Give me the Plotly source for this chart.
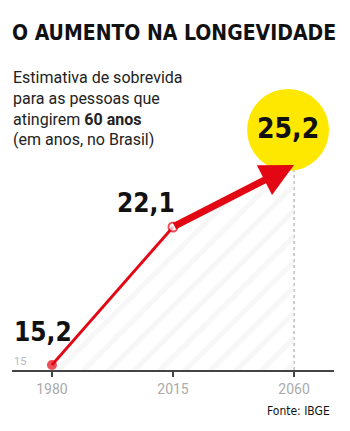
import plotly.graph_objects as go

years = ["1980", "2015", "2060"]
values = [15.2, 22.1, 25.2]
labels = ["15,2", "22,1", "25,2"]
axis_label = "15"

RED = "#e30613"
YELLOW = "#ffe800"
COND = "DejaVu Sans Condensed, DejaVu Sans"

idx = list(range(len(years)))
ymin = 14.95
fig = go.Figure()

# hatched area
fig.add_trace(go.Scatter(
    x=idx, y=values, mode="lines", line=dict(width=0, color="rgba(0,0,0,0)"),
    fill="tozeroy", fillcolor="rgba(0,0,0,0)",
    fillpattern=dict(shape="/", size=18, solidity=0.3, fgcolor="#f0f0f0", bgcolor="rgba(255,255,255,0)"),
    hoverinfo="skip", showlegend=False))

# thin first segment
fig.add_trace(go.Scatter(
    x=idx[:2], y=values[:2], mode="lines", line=dict(width=2.8, color=RED),
    hoverinfo="skip", showlegend=False))

# markers
fig.add_trace(go.Scatter(
    x=idx[:2], y=values[:2], mode="markers",
    marker=dict(size=[10, 9], color=[RED, "white"], line=dict(color=RED, width=[0, 2])),
    hoverinfo="skip", showlegend=False))

shapes = [
    dict(type="line", xref="x", yref="y", x0=idx[2], x1=idx[2], y0=ymin, y1=values[2],
         line=dict(color="#999", width=1, dash="dot"), layer="below"),
    dict(type="circle", xref="x", yref="y", xsizemode="pixel", ysizemode="pixel",
         xanchor=idx[2], yanchor=values[2], x0=-47, x1=35, y0=-6, y1=76,
         fillcolor=YELLOW, line=dict(width=0), layer="below"),
]

annotations = [
    # thick arrow segment
    dict(x=idx[2], y=values[2], ax=idx[1], ay=values[1], xref="x", yref="y",
         axref="x", ayref="y", text="", showarrow=True, arrowhead=2, arrowsize=0.95,
         arrowwidth=7, arrowcolor=RED, standoff=0, startstandoff=0),
    dict(x=idx[0], y=values[0], text=labels[0], showarrow=False, xshift=-9, yshift=33,
         font=dict(family=COND, size=26, color="#111", weight="bold")),
    dict(x=idx[1], y=values[1], text=labels[1], showarrow=False, xshift=-27, yshift=24,
         font=dict(family=COND, size=26, color="#111", weight="bold")),
    dict(x=idx[2], y=values[2], text=labels[2], showarrow=False, xshift=-6, yshift=37,
         font=dict(family=COND, size=28, color="#111", weight="bold")),
    dict(xref="paper", x=0, y=15, yref="y", text=axis_label, showarrow=False, xanchor="left",
         yshift=8, font=dict(family="Roboto", size=11, color="#bbb")),
    dict(xref="paper", yref="paper", x=-0.005, y=(370 - 33) / 310, xanchor="left", yanchor="middle",
         text="O AUMENTO NA LONGEVIDADE", showarrow=False,
         font=dict(family=COND, size=21, color="#111", weight="bold")),
    dict(xref="paper", yref="paper", x=-0.003, y=(370 - 108.5) / 310, xanchor="left", yanchor="middle",
         align="left", showarrow=False,
         text="Estimativa de sobrevida<br>para as pessoas que<br>atingirem <b>60 anos</b><br>(em anos, no Brasil)",
         font=dict(family="Roboto", size=16, color="#222")),
    dict(xref="paper", yref="paper", x=(332 - 12) / 322, y=(370 - 411) / 310, xanchor="right", yanchor="middle",
         text="Fonte: IBGE", showarrow=False, font=dict(family=COND, size=12, color="#111")),
]

fig.update_layout(
    width=350, height=431, margin=dict(l=12, r=16, t=60, b=61),
    paper_bgcolor="white", plot_bgcolor="white",
    shapes=shapes, annotations=annotations,
    xaxis=dict(range=[-0.33, 2.33], tickvals=idx, ticktext=years, showline=True,
               linecolor="#444", linewidth=1.5, ticks="outside", ticklen=5, tickcolor="#444",
               tickwidth=1.5, showgrid=False, zeroline=False,
               tickfont=dict(family="Roboto", size=14, color="#aaa")),
    yaxis=dict(range=[ymin, ymin + 15.5], visible=False),
)

fig.write_html("out.html")
